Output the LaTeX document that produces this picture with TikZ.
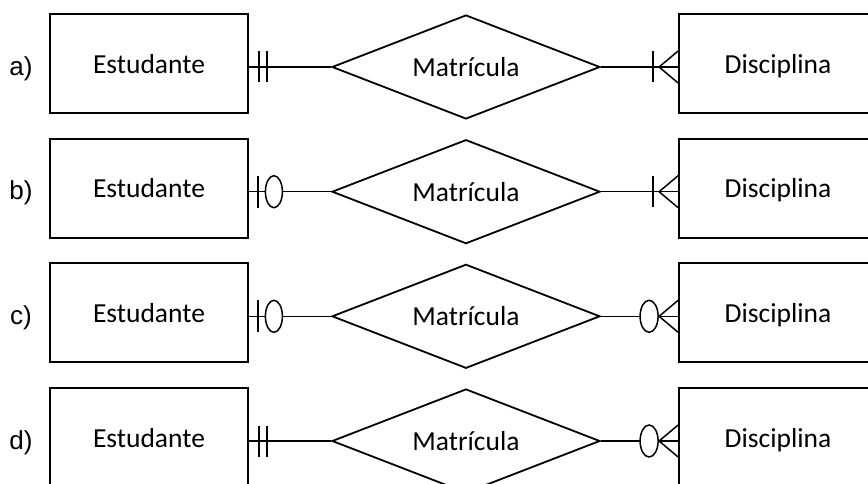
\documentclass[tikz,border=0pt]{standalone}
\usepackage{fontspec}
\setmainfont{Carlito}
\newfontfamily\rotulo{Liberation Sans}
\usetikzlibrary{shapes.geometric}

\tikzset{
  entidade/.style={draw, line width=1.8pt, minimum width=198pt, minimum height=99pt,
    inner sep=0pt, text depth=0pt, font=\fontsize{27.5}{32}\selectfont},
  relacao/.style={draw, diamond, aspect=2.58, line width=1.8pt, minimum width=268pt,
    minimum height=104pt, inner sep=0pt, font=\fontsize{27.5}{32}\selectfont},
  item/.style={font=\rotulo\fontsize{26}{30}\selectfont},
  liga/.style={line width=1.5pt},
  % cardinalidades, x aponta para fora da entidade
  pics/umum/.style={code={
    \draw[liga] (10,-15.5) -- (10,15.5) (18,-15.5) -- (18,15.5);}},
  pics/zeroum/.style={code={
    \draw[liga] (9,-16) -- (9,16);
    \draw[liga,fill=white] (25,0) ellipse [x radius=8.5pt, y radius=16pt];}},
  pics/umvarios/.style={code={
    \draw[liga] (0,-16) -- (19,0) -- (0,16);
    \draw[liga] (25,-15.5) -- (25,15.5);}},
  pics/zerovarios/.style={code={
    \draw[liga] (0,-16) -- (19,0) -- (0,16);
    \draw[liga,fill=white] (29,0) ellipse [x radius=9pt, y radius=16pt];}}
}

\begin{document}
\begin{tikzpicture}[x=1pt,y=-1pt]
  \useasboundingbox (0,0) rectangle (868,484);

  \foreach \r/\y in {a/63.5, b/188.2, c/312.8, d/437.5}{
    \node[item] (l\r) at (21,\y+5) {\r)};
    \node[entidade] (est\r) at (149,\y) {Estudante};
    \node[relacao] (rel\r) at (466,\y+3.5) {Matrícula};
    \node[entidade] (dis\r) at (778,\y) {Disciplina};
    \draw[liga] (est\r.east |- rel\r.west) -- (rel\r.west);
    \draw[liga] (rel\r.east) -- (rel\r.east -| dis\r.west);
  }

  \pic at (esta.east |- rela.west) {umum};
  \pic at (estb.east |- relb.west) {zeroum};
  \pic at (estc.east |- relc.west) {zeroum};
  \pic at (estd.east |- reld.west) {umum};

  \pic[xscale=-1] at (disa.west |- rela.east) {umvarios};
  \pic[xscale=-1] at (disb.west |- relb.east) {umvarios};
  \pic[xscale=-1] at (disc.west |- relc.east) {zerovarios};
  \pic[xscale=-1] at (disd.west |- reld.east) {zerovarios};
\end{tikzpicture}
\end{document}
